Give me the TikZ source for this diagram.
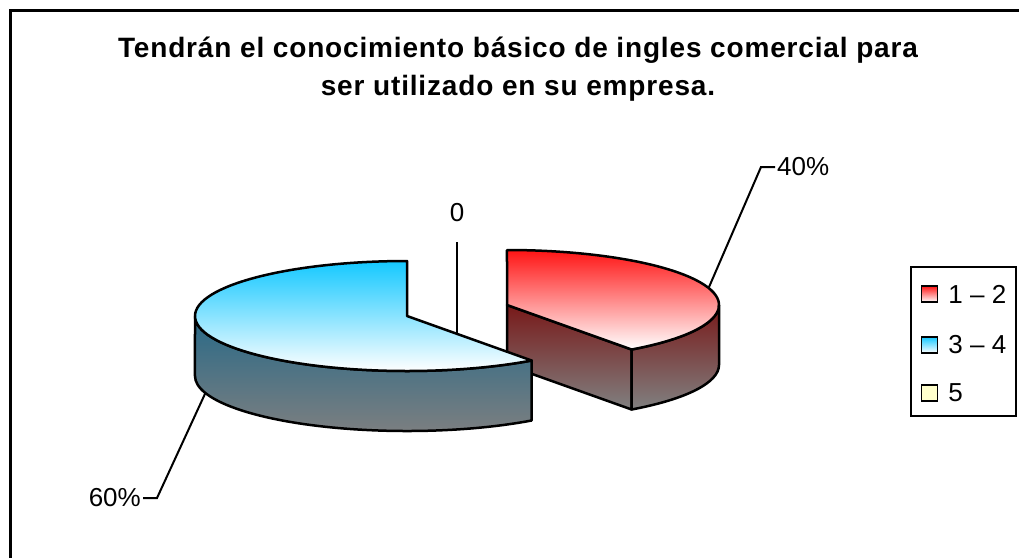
\documentclass[tikz,border=0pt]{standalone}
\usepackage{fontspec}
\setmainfont{Liberation Sans}
\usetikzlibrary{positioning}

\definecolor{cyanTop}{RGB}{20,200,255}
\definecolor{blueWall}{RGB}{40,105,135}
\definecolor{redTop}{RGB}{255,20,20}
\definecolor{redWall}{RGB}{120,25,25}
\definecolor{greyBot}{RGB}{128,128,128}
\definecolor{paleYellow}{RGB}{255,255,204}

\begin{document}
\begin{tikzpicture}[x=1pt, y=-1pt]
\tikzset{ pieedge/.style={draw=black, line width=2.5pt, line join=round},
  leader/.style={line width=2pt},
  lbl/.style={font=\fontsize{26}{30}\selectfont, inner sep=2pt},
  ttl/.style={font=\bfseries\fontsize{28}{34}\selectfont\addfontfeature{LetterSpace=3}, inner sep=0pt, anchor=base},
  keybox/.style={draw, line width=1.5pt, minimum size=16pt, inner sep=0pt}, }

\useasboundingbox (0,0) rectangle (1019,557);
\fill [white] (0,0) rectangle (1019,557);

% chart frame
\draw [line width=3pt] (10,600) -- (10,10) -- (1060,10);

\node [ttl] (title1) at (518,57) {Tendrán el conocimiento básico de ingles comercial para};
\node [ttl] (title2) at (518,95) {ser utilizado en su empresa.};

% red slice, 40%
\shadedraw [top color=redWall, bottom color=greyBot, pieedge] (507,305) -- (631.6,349.5) -- (631.6,409.5) -- (507,365) -- cycle;
\shadedraw [top color=redWall, bottom color=greyBot, pieedge] (631.6,349.5) arc [start angle=54, end angle=0, x radius=212, y radius=55] -- (719,365) arc [start angle=0, end angle=54, x radius=212, y radius=55] -- cycle;
\shadedraw [top color=redTop, bottom color=white, pieedge] (507,305) -- (631.6,349.5) arc [start angle=54, end angle=-90, x radius=212, y radius=55] -- cycle;

% blue slice, 60%
\shadedraw [top color=blueWall, bottom color=greyBot, pieedge] (195,316) arc [start angle=-180, end angle=-306, x radius=212, y radius=55] -- (531.6,420.5) arc [start angle=-306, end angle=-180, x radius=212, y radius=55] -- cycle;
\shadedraw [top color=cyanTop, bottom color=white, pieedge] (407,316) -- (407,261) arc [start angle=-90, end angle=-306, x radius=212, y radius=55] -- cycle;

% data labels
\coordinate (p40) at (708.6,288);
\coordinate (k40) at (761,167);
\node [lbl, anchor=west] (lbl40) at (775,167) {40\%};
\draw [leader] (p40) -- (k40) -- (lbl40.west);

\coordinate (p60) at (205.4,393);
\coordinate (k60) at (157,498);
\node [lbl, anchor=east] (lbl60) at (143,498) {60\%};
\draw [leader] (p60) -- (k60) -- (lbl60.east);

\coordinate (p0) at (457,335);
\coordinate (q0) at (457,242);
\node [lbl] (lbl0) at (457,213) {0};
\draw [leader] (p0) -- (q0);

% legend
\node [draw, line width=2pt, minimum width=105pt, minimum height=149pt] (legend) at (963.5,341.5) {};
\foreach \y/\c/\t [count=\i] in {294/redTop/{1 -- 2}, 345/cyanTop/{3 -- 4}, 393/paleYellow/{5}}
{
  \ifnum\i=3 \def\b{paleYellow}\else \def\b{white}\fi
  \node [keybox, top color=\c, bottom color=\b] (key\i) at (929.5,\y) {};
  \node [lbl, right=8pt of key\i] (txt\i) {\t};
}
\end{tikzpicture}
\end{document}
